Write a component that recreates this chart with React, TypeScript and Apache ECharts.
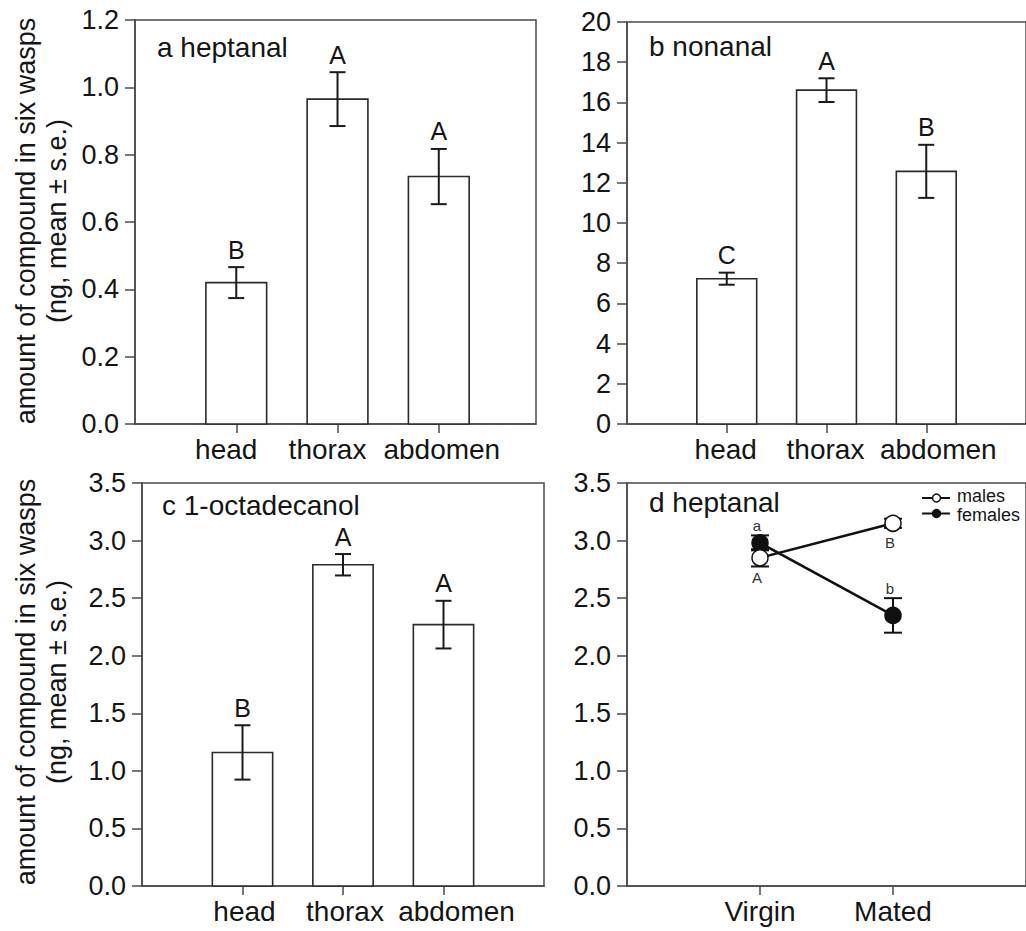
import React, { useEffect, useRef } from "react";
import * as echarts from "echarts";

// ---- data ----
const bodyParts = ["head", "thorax", "abdomen"];
const bodyPartPos = [1, 2, 3];

const heptanalMean = [0.42, 0.965, 0.735];
const heptanalSE = [0.046, 0.08, 0.082];
const heptanalLetters = ["B", "A", "A"];

const nonanalMean = [7.23, 16.61, 12.57];
const nonanalSE = [0.3, 0.59, 1.32];
const nonanalLetters = ["C", "A", "B"];

const octadecanolMean = [1.16, 2.79, 2.27];
const octadecanolSE = [0.236, 0.093, 0.207];
const octadecanolLetters = ["B", "A", "A"];

const matingStatus = ["Virgin", "Mated"];
const matingPos = [1, 2];
const malesMean = [2.85, 3.15];
const malesSE = [0.075, 0.04];
const malesLetters = ["A", "B"];
const femalesMean = [2.98, 2.35];
const femalesSE = [0.065, 0.15];
const femalesLetters = ["a", "b"];

const panelLabels = ["a heptanal", "b nonanal", "c 1-octadecanol", "d heptanal"];
const yTitle = "amount of compound in six wasps\n(ng, mean ± s.e.)";

// ---- styles ----
const FONT = "Liberation Sans, Arial, sans-serif";
const AXIS = "#4a4a4a";
const TXT = "#151515";
const FS_TICK = 27;
const FS_CAT = 28;
const FS_PANEL = 28;

function barRender(letters: string[]) {
  return (params: any, api: any) => {
    const x = api.value(0);
    const m = api.value(1);
    const se = api.value(2);
    const p0 = api.coord([x, 0]);
    const p1 = api.coord([x, m]);
    const hi = api.coord([x, m + se]);
    const lo = api.coord([x, m - se]);
    const bw = api.size([0.6, 0])[0];
    const cw = 8;
    return {
      type: "group",
      children: [
        {
          type: "rect",
          shape: { x: p0[0] - bw / 2, y: p1[1], width: bw, height: p0[1] - p1[1] },
          style: { fill: "#fff", stroke: "#2a2a2a", lineWidth: 1.6 },
        },
        { type: "line", shape: { x1: hi[0], y1: hi[1], x2: lo[0], y2: lo[1] }, style: { stroke: "#1a1a1a", lineWidth: 2 } },
        { type: "line", shape: { x1: hi[0] - cw, y1: hi[1], x2: hi[0] + cw, y2: hi[1] }, style: { stroke: "#1a1a1a", lineWidth: 2 } },
        { type: "line", shape: { x1: lo[0] - cw, y1: lo[1], x2: lo[0] + cw, y2: lo[1] }, style: { stroke: "#1a1a1a", lineWidth: 2 } },
        {
          type: "text",
          style: {
            x: hi[0],
            y: hi[1] - 5,
            text: letters[params.dataIndex],
            align: "center",
            verticalAlign: "bottom",
            fontSize: 25,
            fontFamily: FONT,
            fill: TXT,
          },
        },
      ],
    };
  };
}

function errRender(letters: string[], above: boolean) {
  return (params: any, api: any) => {
    const x = api.value(0);
    const m = api.value(1);
    const se = api.value(2);
    const c = api.coord([x, m]);
    const hi = api.coord([x, m + se]);
    const lo = api.coord([x, m - se]);
    const cw = 9;
    const r = 8;
    const ty = above ? Math.min(hi[1], c[1] - r) - 3 : Math.max(lo[1], c[1] + r) + 5;
    return {
      type: "group",
      children: [
        { type: "line", shape: { x1: hi[0], y1: hi[1], x2: lo[0], y2: lo[1] }, style: { stroke: "#111", lineWidth: 2 } },
        { type: "line", shape: { x1: hi[0] - cw, y1: hi[1], x2: hi[0] + cw, y2: hi[1] }, style: { stroke: "#111", lineWidth: 2 } },
        { type: "line", shape: { x1: lo[0] - cw, y1: lo[1], x2: lo[0] + cw, y2: lo[1] }, style: { stroke: "#111", lineWidth: 2 } },
        {
          type: "text",
          style: {
            x: c[0] - 3,
            y: ty,
            text: letters[params.dataIndex],
            align: "center",
            verticalAlign: above ? "bottom" : "top",
            fontSize: 15,
            lineHeight: 13,
            fontFamily: FONT,
            fill: "#333",
          },
        },
      ],
    };
  };
}

// horizontal nudge (px) of each category label relative to its tick
function xAxisDef(gridIndex: number, max: number, names: string[], pos: number[], nudge: number[]) {
  const rich: any = {};
  nudge.forEach((d, i) => {
    rich["l" + i] = {
      fontSize: FS_CAT,
      fontFamily: FONT,
      color: TXT,
      padding: d >= 0 ? [0, 0, 0, 2 * d] : [0, -2 * d, 0, 0],
    };
  });
  return {
    type: "value",
    gridIndex,
    min: 0,
    max,
    axisLine: { show: true, lineStyle: { color: AXIS, width: 1.5 } },
    axisTick: { show: true, customValues: pos, length: 9, lineStyle: { color: AXIS, width: 1.5 } },
    axisLabel: {
      show: true,
      customValues: pos,
      formatter: (v: number) => {
        const i = Math.round(v) - 1;
        return names[i] ? `{l${i}|${names[i]}}` : "";
      },
      rich,
      fontSize: FS_CAT,
      fontFamily: FONT,
      color: TXT,
      margin: 11,
    },
    splitLine: { show: false },
  };
}

function yAxisDef(gridIndex: number, max: number, interval: number, digits: number) {
  return {
    type: "value",
    gridIndex,
    min: 0,
    max,
    interval,
    axisLine: { show: true, lineStyle: { color: AXIS, width: 1.5 } },
    axisTick: { show: true, length: 10, lineStyle: { color: AXIS, width: 1.5 } },
    axisLabel: {
      fontSize: FS_TICK,
      fontFamily: FONT,
      color: TXT,
      margin: 16,
      formatter: (v: number) => v.toFixed(digits),
    },
    splitLine: { show: false },
  };
}

const toRows = (pos: number[], mean: number[], se: number[]) => pos.map((p, i) => [p, mean[i], se[i]]);

export default function App() {
  const ref = useRef<HTMLDivElement>(null);
  useEffect(() => {
    document.body.style.margin = "0";
    document.body.style.overflow = "hidden";
    const chart = echarts.init(ref.current!, null, { renderer: "svg" });
    const gridStyle = { show: true, borderColor: AXIS, borderWidth: 1.5, backgroundColor: "transparent" };
    const option: any = {
      animation: false,
      backgroundColor: "#fff",
      textStyle: { fontFamily: FONT },
      grid: [
        { left: 135, top: 20, width: 401, height: 404, ...gridStyle },
        { left: 627, top: 22, width: 404, height: 402, ...gridStyle },
        { left: 142, top: 483, width: 402, height: 403, ...gridStyle },
        { left: 627, top: 483, width: 400, height: 403, ...gridStyle },
      ],
      xAxis: [
        xAxisDef(0, 3.96, bodyParts, bodyPartPos, [-10, -10, 3]),
        xAxisDef(1, 4, bodyParts, bodyPartPos, [-1, -1, 12]),
        xAxisDef(2, 4, bodyParts, bodyPartPos, [2, 2, 13]),
        xAxisDef(3, 3, matingStatus, matingPos, [0, 0]),
      ],
      yAxis: [yAxisDef(0, 1.2, 0.2, 1), yAxisDef(1, 20, 2, 0), yAxisDef(2, 3.5, 0.5, 1), yAxisDef(3, 3.5, 0.5, 1)],
      series: [
        {
          type: "custom",
          name: "heptanal",
          xAxisIndex: 0,
          yAxisIndex: 0,
          renderItem: barRender(heptanalLetters),
          encode: { x: 0, y: 1 },
          data: toRows(bodyPartPos, heptanalMean, heptanalSE),
          clip: false,
        },
        {
          type: "custom",
          name: "nonanal",
          xAxisIndex: 1,
          yAxisIndex: 1,
          renderItem: barRender(nonanalLetters),
          encode: { x: 0, y: 1 },
          data: toRows(bodyPartPos, nonanalMean, nonanalSE),
          clip: false,
        },
        {
          type: "custom",
          name: "1-octadecanol",
          xAxisIndex: 2,
          yAxisIndex: 2,
          renderItem: barRender(octadecanolLetters),
          encode: { x: 0, y: 1 },
          data: toRows(bodyPartPos, octadecanolMean, octadecanolSE),
          clip: false,
        },
        {
          type: "custom",
          name: "males se",
          xAxisIndex: 3,
          yAxisIndex: 3,
          z: 1,
          renderItem: errRender(malesLetters, false),
          encode: { x: 0, y: 1 },
          data: toRows(matingPos, malesMean, malesSE),
          clip: false,
        },
        {
          type: "custom",
          name: "females se",
          xAxisIndex: 3,
          yAxisIndex: 3,
          z: 1,
          renderItem: errRender(femalesLetters, true),
          encode: { x: 0, y: 1 },
          data: toRows(matingPos, femalesMean, femalesSE),
          clip: false,
        },
        {
          type: "line",
          name: "females",
          xAxisIndex: 3,
          yAxisIndex: 3,
          z: 3,
          data: matingPos.map((p, i) => [p, femalesMean[i]]),
          symbol: "circle",
          symbolSize: 16,
          showAllSymbol: true,
          lineStyle: { color: "#111", width: 2.5 },
          itemStyle: { color: "#111", borderColor: "#111", borderWidth: 1.5 },
          emphasis: { disabled: true },
        },
        {
          type: "line",
          name: "males",
          xAxisIndex: 3,
          yAxisIndex: 3,
          z: 4,
          data: matingPos.map((p, i) => [p, malesMean[i]]),
          symbol: "circle",
          symbolSize: 16,
          showAllSymbol: true,
          lineStyle: { color: "#111", width: 2.5 },
          itemStyle: { color: "#fff", borderColor: "#111", borderWidth: 1.5 },
          emphasis: { disabled: true },
        },
      ],
      graphic: [
        ...[
          [41, 221],
          [41, 682],
        ].map(([x, y]) => ({
          type: "text",
          x,
          y,
          rotation: Math.PI / 2,
          style: {
            text: yTitle,
            align: "center",
            verticalAlign: "middle",
            fontSize: 27,
            lineHeight: 31,
            fontFamily: FONT,
            fill: TXT,
          },
        })),
        ...[
          [157, 47],
          [649, 46],
          [162, 505],
          [649, 502],
        ].map(([x, y], i) => ({
          type: "text",
          x,
          y,
          style: {
            text: panelLabels[i],
            align: "left",
            verticalAlign: "middle",
            fontSize: FS_PANEL,
            lineHeight: 24,
            fontFamily: FONT,
            fill: TXT,
          },
        })),
        // legend for panel d
        { type: "line", shape: { x1: 922, y1: 498, x2: 950, y2: 498 }, style: { stroke: "#111", lineWidth: 2 } },
        { type: "circle", shape: { cx: 936.5, cy: 498, r: 4 }, style: { fill: "#fff", stroke: "#111", lineWidth: 1.5 } },
        { type: "text", x: 957, y: 496, style: { text: "males", fontSize: 18, lineHeight: 15, fontFamily: FONT, fill: TXT, align: "left", verticalAlign: "middle" } },
        { type: "line", shape: { x1: 922, y1: 513.5, x2: 950, y2: 513.5 }, style: { stroke: "#111", lineWidth: 2 } },
        { type: "circle", shape: { cx: 936.5, cy: 513.5, r: 4 }, style: { fill: "#111", stroke: "#111", lineWidth: 1.5 } },
        { type: "text", x: 957, y: 514.5, style: { text: "females", fontSize: 18, lineHeight: 15, fontFamily: FONT, fill: TXT, align: "left", verticalAlign: "middle" } },
      ],
    };
    chart.setOption(option);
    return () => chart.dispose();
  }, []);
  return <div ref={ref} style={{ width: 1026, height: 931 }} />;
}
